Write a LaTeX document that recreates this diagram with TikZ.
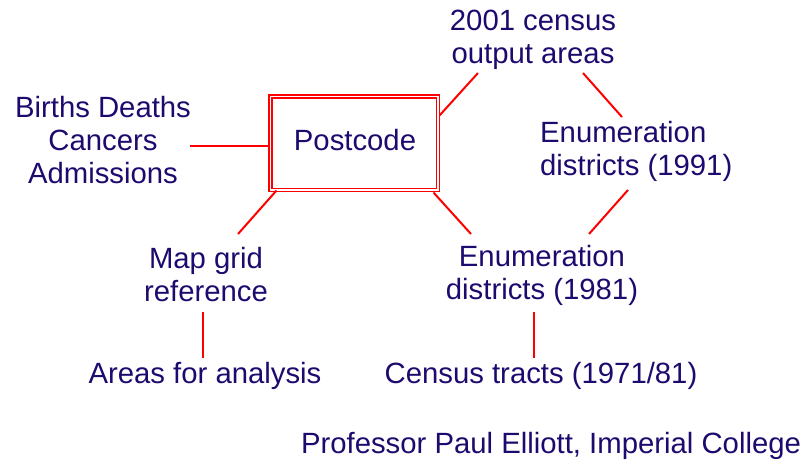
\documentclass[tikz,border=0pt]{standalone}
\usepackage{fontspec}
\setmainfont{Liberation Sans}
\usetikzlibrary{calc}
\definecolor{txt}{HTML}{1E0A6E}
\definecolor{ln}{HTML}{FF0000}
\begin{document}
\begin{tikzpicture}[x=1pt,y=-1pt,
  lbl/.style={text=txt,align=center,inner sep=0pt,font=\fontsize{29.3}{33}\selectfont},
  conn/.style={draw=ln,line width=2pt},
  pcbox/.style={draw=ln,double=white,double distance=1.5pt,line width=1.5pt,minimum width=167.5pt,minimum height=93.5pt,inner sep=0pt}]
\useasboundingbox (0,0) rectangle (807,466);
\node[pcbox] (box) at (354,143) {};
\node[lbl] (post) at (355,140) {Postcode};
\node[lbl] (census) at (533,40) {2001 census\\output areas};
\node[lbl] (births) at (103,140) {Births Deaths\\Cancers\\Admissions};
\node[lbl,align=left,anchor=west] (e91) at (540,151) {Enumeration\\districts (1991)};
\node[lbl] (map) at (206,275) {Map grid\\reference};
\node[lbl] (e81) at (542,275) {Enumeration\\districts (1981)};
\node[lbl] (areas) at (205,376) {Areas for analysis};
\node[lbl] (tracts) at (541,376) {Census tracts (1971/81)};
\node[lbl] (credit) at (551,446) {Professor Paul Elliott, Imperial College};
\draw[conn] ($(box.west)+(-80,3)$) -- ($(box.west)+(-2,3)$);
\draw[conn] ($(box.north east)+(1,20)$) -- ($(census)+(-55,33)$);
\draw[conn] ($(census)+(50,33)$) -- ($(e91.west)+(82,-34)$);
\draw[conn] ($(e91.west)+(88,39)$) -- ($(e81)+(47,-41)$);
\draw[conn] ($(box.south east)+(-5,2)$) -- ($(e81)+(-71,-41)$);
\draw[conn] ($(box.south west)+(7,0)$) -- ($(map)+(32,-41)$);
\draw[conn] ($(map)+(-3,37)$) -- ($(areas)+(-2,-18)$);
\draw[conn] ($(e81)+(-8,37)$) -- ($(tracts)+(-7,-18)$);
\end{tikzpicture}
\end{document}
